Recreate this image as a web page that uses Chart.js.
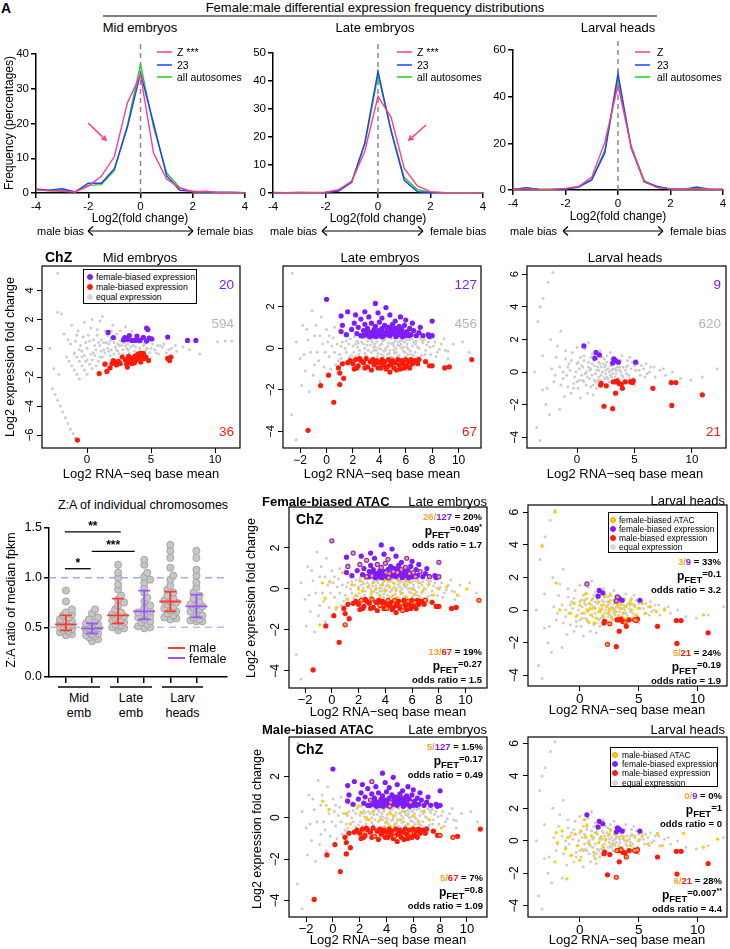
<!DOCTYPE html>
<html>
<head>
<meta charset="utf-8">
<script src="https://cdn.jsdelivr.net/npm/chart.js@4.4.0/dist/chart.umd.min.js"></script>
<style>
  body { margin: 0; background: #fff; }
  #fig { position: relative; width: 730px; height: 949px; overflow: hidden; font-family: "Liberation Sans", Arial, sans-serif; color: #000; }
  #fig canvas { position: absolute; }
  .t { position: absolute; white-space: nowrap; line-height: 1; }
</style>
</head>
<body>
<div id="fig"></div>
<script>
// ---- frequency distributions (row 1) ----
const binCenters = [-4, -3.5, -3, -2.5, -2, -1.5, -1, -0.5, 0, 0.5, 1, 1.5, 2, 2.5, 3, 3.5, 4];
const freqXTicks = [-4, -2, 0, 2, 4];
const midZ    = [1.0, 0.6, 0.5, 0.3, 2.0, 4.8, 10.5, 26, 34, 11.5, 4, 1.5, 0.3, 0.5, 0.1, 0.1, 0];
const mid23   = [1.2, 0.8, 1.2, 0.3, 2.8, 2.8, 7.0, 19, 34.5, 20, 5, 0.8, 0.5, 0.3, 0.2, 0.2, 0.1];
const midAuto = [0.8, 0.7, 0.7, 0.4, 2.2, 2.4, 6.5, 19.5, 37, 19, 5.8, 1.5, 0.4, 0.2, 0.1, 0.1, 0.1];
const lateZ    = [0, 0.1, 0.3, 0.2, 0.3, 1.2, 4.2, 15, 34.5, 27, 8.8, 2.5, 0.5, 0.2, 0.1, 0.1, 0];
const late23   = [0.2, 0.1, 0.1, 0.1, 0.2, 0.7, 3.8, 18, 43.5, 22, 4.5, 0.5, 0.1, 0.1, 0, 0, 0];
const lateAuto = [0.1, 0.1, 0.1, 0.1, 0.2, 0.9, 4.3, 17.5, 42, 22.5, 5.5, 1.2, 0.2, 0.1, 0.1, 0, 0];
const larvZ    = [0.3, 0.5, 0.1, 0.3, 0.7, 1.5, 5.5, 20.5, 45, 18.5, 3.5, 1.0, 0.5, 0.3, 0.7, 0.2, 0.3];
const larv23   = [0.2, 1.0, 0.2, 0.1, 0.3, 1.4, 4.3, 16, 50, 18, 3.5, 1.5, 0.5, 0.2, 1.3, 0.2, 0.2];
const larvAuto = [0.5, 0.8, 0.3, 0.3, 0.5, 1.2, 4.5, 17, 47.5, 19, 4.0, 1.2, 0.5, 0.3, 0.5, 0.2, 0.3];
const midYTicks = [0, 10, 20, 30, 40];
const lateYTicks = [0, 10, 20, 30, 40, 50];
const larvYTicks = [0, 20, 40, 60];

// ---- Z:A strip plot ----
const stripGroups = ['Mid emb', 'Late emb', 'Larv heads'];
const midMale   = [0.87, 0.76, 0.68, 0.65, 0.63, 0.62, 0.60, 0.58, 0.57, 0.56, 0.55, 0.54, 0.53, 0.53, 0.52, 0.51, 0.50, 0.50, 0.49, 0.48, 0.47, 0.46, 0.45, 0.43, 0.42];
const midFemale = [0.68, 0.64, 0.60, 0.58, 0.56, 0.55, 0.54, 0.53, 0.52, 0.51, 0.50, 0.50, 0.49, 0.49, 0.48, 0.47, 0.46, 0.45, 0.44, 0.43, 0.42, 0.41, 0.40, 0.38, 0.36];
const lateMale  = [1.13, 1.05, 1.00, 0.93, 0.88, 0.82, 0.78, 0.75, 0.72, 0.68, 0.65, 0.63, 0.62, 0.61, 0.60, 0.58, 0.57, 0.56, 0.55, 0.53, 0.52, 0.51, 0.50, 0.49, 0.47];
const lateFemale = [1.18, 1.13, 1.05, 1.01, 0.98, 0.95, 0.90, 0.85, 0.80, 0.76, 0.72, 0.69, 0.66, 0.65, 0.63, 0.61, 0.60, 0.58, 0.56, 0.55, 0.53, 0.51, 0.50, 0.49];
const larvMale  = [1.33, 1.27, 1.20, 1.10, 1.02, 0.98, 0.92, 0.88, 0.85, 0.82, 0.79, 0.77, 0.76, 0.75, 0.73, 0.71, 0.69, 0.67, 0.66, 0.64, 0.62, 0.60, 0.59, 0.58];
const larvFemale = [1.27, 1.20, 1.08, 1.02, 0.95, 0.90, 0.85, 0.82, 0.79, 0.76, 0.73, 0.72, 0.71, 0.70, 0.68, 0.66, 0.64, 0.62, 0.60, 0.58, 0.57, 0.56, 0.56];
const stripMedian = [0.53, 0.49, 0.62, 0.66, 0.76, 0.71];
const stripQ1 = [0.47, 0.44, 0.54, 0.58, 0.66, 0.60];
const stripQ3 = [0.62, 0.54, 0.79, 0.87, 0.86, 0.83];
const stripYTicks = [0, 0.5, 1.0, 1.5];

// ---- MA plots: mid embryos ----
const midGray = [[0.2,0.5],[0.5,-0.3],[0.8,0.9],[1.0,0.2],[1.2,-0.6],[1.4,1.2],[1.5,0.4],[1.7,-0.2],[1.9,0.7],[2.0,-0.9],[2.2,0.1],[2.3,1.0],[2.5,-0.4],[2.6,0.5],[2.8,-0.1],[2.9,0.8],[3.0,-0.7],[3.2,0.3],[3.3,-0.3],[3.5,0.6],[3.6,-0.5],[3.8,0.1],[3.9,-0.9],[4.1,0.4],[4.2,-0.2],[4.4,0.2],[4.5,-0.6],[4.7,0.0],[4.9,-0.3],[5.1,0.3],[5.3,-0.1],[5.6,-0.4],[5.9,0.1],[6.2,-0.3],[6.6,0.0],[7.0,-0.2],[7.5,0.1],[8.8,-0.4],[10.2,0.45],[10.8,0.5],[11.3,0.5],
  [0.0,0.0],[0.3,1.4],[0.6,0.2],[0.9,-0.9],[1.1,0.6],[1.3,-0.1],[1.6,0.9],[1.8,-0.5],[2.1,0.4],[2.4,-0.2],[2.7,0.2],[3.1,0.0],[3.4,0.9],[3.7,-0.2],[4.0,-0.4],[4.3,0.6],[4.6,-0.1],[4.8,0.5],[5.0,-0.7],[5.2,0.6],[5.5,0.2],[-0.3,0.8],[-0.5,0.2],[-0.7,1.2],[-0.9,0.5],[-1.0,-0.4],[-1.2,1.6],[-0.4,-0.6],[-0.2,1.8],[0.4,2.0],[1.0,1.9],[-1.5,0.6],[-1.8,1.0],[1.2,2.2],[2.0,1.6],[3.0,1.5],[3.5,1.2],[0.7,-1.2],[1.5,-1.0],[2.6,-0.9],
  [0.4,-0.8],[1.4,-0.3],[2.2,0.7],[2.9,0.4],[3.6,0.2],[4.1,0.0],[1.9,-0.1],[0.9,0.4],[2.4,0.3],[3.3,0.5],[-0.1,0.4],[0.6,-0.5],[1.7,0.3],[2.8,-0.4],[3.9,0.5],[4.5,0.3],[5.4,-0.3],[6.0,0.3],[6.9,0.2],[8.0,-0.1],
  [0.1,0.9],[0.5,0.6],[0.7,-0.1],[1.1,-0.2],[1.3,0.4],[1.6,0.0],[1.8,0.5],[2.1,-0.4],[2.3,-0.1],[2.5,0.2],[2.7,-0.6],[3.0,0.2],[3.2,-0.1],[3.4,0.1],[3.7,0.5],[3.9,-0.3],[4.3,-0.4],[4.6,0.4],[5.0,0.0],[5.7,0.2],[6.4,-0.1],[-0.6,-0.1],[-0.8,0.9],[-1.3,0.3],[0.3,-0.4],[0.8,1.3],[1.9,1.2],[2.6,1.2],[-0.1,-0.9],[1.0,-0.6],
  [-1.6,-0.6],[-1.4,-0.9],[-1.2,-1.2],[-1.0,-1.5],[-0.8,-1.8],[-0.6,-2.1],[-1.0,-0.3],[-0.8,-0.6],[-0.6,-0.9],[-0.4,-1.2],[-0.2,-1.5],[0.0,-1.8],[-0.4,-0.2],[-0.2,-0.5],[0.0,-0.8],[0.2,-1.1],[0.4,-1.4],
  [-2.7,-2.8],[-2.5,-3.2],[-2.3,-3.6],[-2.1,-4.0],[-1.9,-4.4],[-1.7,-4.8],[-1.5,-5.2],[-1.3,-5.6],[-1.1,-5.9],[-0.9,-6.2],[-2.2,-1.8],[-2.6,-1.4],[-2.3,5.2],[-2.3,2.5],[-2.0,2.4],[-2.9,0.0]];
const midPurple = [[1.65,1.1],[2.05,0.75],[2.95,0.75],[3.3,0.88],[3.5,0.55],[3.15,0.62],[3.9,0.85],[3.95,0.58],[4.4,0.76],[4.65,1.4],[4.75,1.3],[4.65,0.5],[4.85,0.7],[5.05,0.65],[3.75,0.55],[4.15,0.55],[6.3,0.78],[7.85,0.55],[8.5,0.55],[2.85,0.58]];
const midRed = [[0.95,-1.75],[1.55,-1.6],[1.4,-1.1],[1.95,-1.05],[2.2,-0.95],[2.3,-1.15],[2.75,-0.6],[3.1,-1.1],[3.15,-1.3],[3.5,-0.7],[3.6,-0.85],[3.7,-1.0],[3.75,-0.55],[3.85,-0.5],[4.0,-0.4],[4.05,-0.7],[4.15,-0.35],[4.25,-0.55],[4.4,-0.35],[4.45,-0.7],[4.8,-0.85],[3.8,-0.85],[3.25,-0.55],[2.6,-1.05],[3.0,-0.8],[4.6,-0.6],[6.3,-0.7],[6.45,-0.85],[6.55,-0.6],[1.8,-1.35],[2.45,-0.9],[3.35,-0.85],[4.2,-0.95],[3.5,-1.05],[-0.75,-6.35],[2.05,-0.85]];

// ---- MA plots: late embryos ----
const lateGray = [[1.2,0.3],[1.5,-0.2],[1.8,0.45],[2.0,0.1],[2.2,-0.4],[2.4,0.25],[2.5,-0.1],[2.7,0.5],[2.9,0.0],[3.0,-0.35],[3.1,0.35],[3.3,0.15],[3.4,-0.2],[3.5,0.45],[3.6,-0.45],[3.7,0.05],[3.8,0.3],[3.9,-0.25],[4.0,0.5],[4.1,-0.05],[4.2,0.2],[4.3,-0.4],[4.4,0.4],[4.5,0.0],[4.6,-0.3],[4.7,0.25],[4.8,-0.1],[4.9,0.45],[5.0,-0.45],[5.1,0.1],[5.2,0.35],[5.3,-0.2],[5.4,0.15],[5.5,-0.35],[5.6,0.5],[5.7,0.0],[5.8,-0.15],[5.9,0.3],[6.0,-0.4],[6.1,0.2],[6.2,-0.05],[6.3,0.4],[6.4,-0.3],[6.5,0.1],[6.7,-0.2],[6.8,0.35],[7.0,0.0],[7.2,-0.35],[7.3,0.25],[7.5,-0.1],[7.7,0.3],[7.9,-0.3],[8.1,0.1],[8.4,-0.2],[8.7,0.2],[9.0,-0.1],
  [2.1,0.55],[2.6,-0.5],[3.2,-0.55],[3.55,0.05],[4.05,0.15],[4.55,0.5],[4.85,-0.4],[5.25,0.0],[5.75,0.4],[6.25,-0.5],[6.6,0.3],[7.1,0.45],[3.75,-0.1],[4.35,-0.15],[5.45,0.3],[5.95,-0.2],[2.8,0.2],[3.25,0.55],[1.6,0.6],[1.0,-0.3],[0.8,0.2],
  [0.5,0.5],[0.2,-0.4],[0.0,0.9],[-0.3,0.2],[-0.6,-0.6],[-0.9,0.6],[-1.2,-0.2],[-1.5,0.9],[-1.8,1.1],[-0.8,1.1],[-1.1,1.8],[-2.6,3.6],[-2.0,-0.5],[-1.6,-1.1],[-1.0,-1.3],[-0.5,-1.6],[-1.3,-2.1],[-0.2,-0.9],[0.3,-1.0],[0.6,1.0],[1.0,0.9],[1.3,-0.7],[0.9,-0.6],[-2.65,-3.2],[-2.3,-4.4],[-1.9,-1.8],[-0.4,1.5],[-2.3,0.3],
  [9.2,-0.15],[9.2,-0.5],[10.3,0.3],[9.6,0.2],[8.9,0.45],[10.8,-0.2],
  [1.4,0.0],[2.3,0.35],[2.9,-0.25],[3.45,0.3],[4.15,-0.3],[4.65,0.1],[5.15,-0.25],[5.65,0.2],[6.15,-0.3],[6.9,0.05],[7.6,0.15],[8.3,-0.4],[1.9,-0.35],[0.4,0.1],[-0.1,-0.2],[3.95,0.0],[5.05,0.25],[6.45,0.45],
  [1.1,0.1],[1.7,0.2],[2.05,-0.2],[2.35,0.05],[2.65,0.3],[2.95,0.5],[3.15,-0.1],[3.35,0.4],[3.65,0.2],[3.85,-0.4],[4.25,0.35],[4.45,-0.1],[4.75,-0.25],[4.95,0.2],[5.35,-0.4],[5.55,0.1],[5.85,0.05],[6.05,0.4],[6.35,-0.15],[6.55,-0.35],[6.75,0.2],[7.05,-0.45],[7.25,0.35],[7.45,-0.3],[7.85,0.05],[8.2,0.3],[8.55,-0.05],[0.1,0.3],[-0.5,0.6],[-0.7,-0.2],[0.6,-0.2],[1.1,-0.5],[1.7,-0.45],[2.45,-0.3],[3.05,0.15],[3.6,-0.1],[4.15,0.45],[4.6,-0.5],[5.1,-0.1],[5.6,0.35],[6.1,0.05],[6.85,-0.45],[7.4,0.4],[-1.4,0.4],[-0.9,-0.8],[0.2,0.6],[0.7,-0.8],[1.5,0.35],[2.2,0.2],[-1.7,-0.3]];
const latePurple = [[0.0,2.35],[1.1,1.55],[1.6,1.75],[3.7,2.15],[4.5,1.95],[8.0,1.3],[2.2,1.6],[2.6,1.4],[2.9,1.75],[3.2,1.5],[3.9,1.7],[4.2,1.45],[4.8,1.6],[5.2,1.3],[5.6,1.5],[6.0,1.35],[6.5,1.2],[7.1,1.0],
  [1.1,0.8],[1.2,1.1],[1.5,0.65],[1.9,0.9],[2.1,1.2],[2.3,0.7],[2.4,1.0],[2.6,0.6],[2.8,0.85],[2.9,1.15],[3.0,0.65],[3.1,0.95],[3.3,0.75],[3.4,1.2],[3.5,0.6],[3.6,0.9],[3.7,1.05],[3.8,0.7],[3.9,0.85],[4.0,1.25],[4.1,0.6],[4.2,0.95],[4.3,0.75],[4.4,1.1],[4.5,0.65],[4.6,0.85],[4.7,1.0],[4.8,0.6],[4.9,0.8],[5.0,1.15],[5.1,0.7],[5.2,0.95],[5.3,0.6],[5.4,0.85],[5.5,1.05],[5.6,0.65],[5.7,0.9],[5.8,0.75],[5.9,1.1],[6.0,0.6],[6.1,0.8],[6.3,0.95],[6.4,0.65],[6.6,0.85],[6.8,0.6],[7.0,0.75],[7.3,0.6],[7.7,0.65],[7.8,0.55],[8.0,0.6],
  [3.25,0.55],[3.75,0.55],[4.25,0.55],[4.75,0.7],[5.25,0.55],[5.75,0.55],[4.05,0.8],[4.55,1.0],[5.05,0.9],[3.55,0.8],[2.75,0.6],[6.25,0.6],[4.35,0.65],[4.85,0.95],[5.45,0.7],[3.15,0.8]];
const lateRed = [[-0.45,-1.8],[0.15,-1.3],[0.55,-2.6],[-1.4,-3.95],[0.9,-0.95],[1.0,-1.2],[1.0,-1.75],[1.3,-1.45],[2.1,-1.0],[8.95,-0.95],[9.3,-0.9],[11.0,-0.55],[4.8,-1.15],
  [1.8,-0.6],[2.0,-0.75],[2.2,-0.55],[2.4,-0.85],[2.6,-0.6],[2.8,-0.7],[3.0,-0.5],[3.1,-0.9],[3.3,-0.65],[3.5,-0.55],[3.6,-0.8],[3.8,-0.6],[3.9,-0.95],[4.0,-0.7],[4.2,-0.55],[4.3,-0.8],[4.4,-0.65],[4.6,-0.9],[4.7,-0.55],[4.9,-0.75],[5.0,-0.6],[5.1,-0.95],[5.2,-0.7],[5.4,-0.55],[5.5,-0.8],[5.6,-1.0],[5.7,-0.6],[5.8,-0.75],[6.0,-0.55],[6.1,-0.85],[6.2,-0.65],[6.4,-0.55],[6.5,-0.75],[6.7,-0.6],[7.0,-0.55],[7.5,-0.65],[7.8,-0.85],[8.0,-0.85],
  [5.3,-1.05],[4.5,-1.0],[3.4,-1.05],[2.9,-0.95],[6.9,-0.75],[4.1,-0.95],[5.9,-0.95],[3.7,-0.7],[4.8,-0.8],[2.3,-0.95],[1.2,-0.75],[1.6,-0.7],[2.5,-0.5],[6.3,-0.95]];

// ---- MA plots: larval heads ----
const larvGray = [[-1.5,0.3],[-1.2,-0.4],[-1.0,0.8],[-0.8,-0.9],[-0.6,0.1],[-0.4,1.2],[-0.2,-0.3],[0.0,0.5],[0.1,-1.0],[0.3,0.9],[0.4,-0.2],[0.5,0.3],[0.6,-0.6],[0.7,1.4],[0.8,0.0],[0.9,-1.3],[1.0,0.6],[1.1,-0.4],[1.2,0.2],[1.3,1.1],[1.4,-0.8],[1.5,0.4],[1.6,-0.1],[1.7,0.8],[1.8,-0.5],[1.9,0.1],[2.0,0.5],[2.1,-0.2],[2.2,0.9],[2.3,-0.7],[2.4,0.3],[2.5,-0.1],[2.6,0.6],[2.7,-0.4],[2.8,0.0],[2.9,0.4],[3.0,-0.3],[3.1,0.2],[3.2,-0.6],[3.3,0.5],[3.4,-0.1],[3.5,0.3],[3.6,-0.4],[3.7,0.1],[3.8,0.7],[3.9,-0.2],[4.0,0.3],[4.1,-0.5],[4.2,0.1],[4.4,0.4],[4.5,-0.2],[4.7,0.2],[4.9,-0.4],[5.1,0.1],[5.3,0.5],[5.5,-0.2],[5.8,0.2],[6.1,-0.1],[6.4,0.3],[6.8,-0.3],[7.2,0.1],[7.7,-0.2],[8.3,0.0],[9.0,-0.4],[9.9,-0.5],[10.9,-0.3],[12.2,0.2],
  [0.2,0.2],[0.6,0.7],[0.9,-0.3],[1.2,-0.9],[1.5,1.0],[1.8,0.3],[2.1,-0.8],[2.4,0.8],[2.7,0.2],[3.0,0.8],[3.3,-0.3],[3.6,0.5],[1.1,0.1],[1.6,-0.6],[2.2,0.0],[2.6,-0.3],[3.4,0.1],[0.5,-0.5],[-0.3,-0.7],[-0.7,0.5],[0.0,1.5],[1.0,1.8],[-1.1,-1.5],[-1.8,0.9],[-2.0,-0.6],[-1.7,1.6],[0.3,-1.6],[1.4,-1.4],[-0.5,-1.3],[4.3,-0.1],[4.8,0.6],[5.0,-0.8],[5.6,0.4],[6.0,0.5],[2.9,1.2],[3.9,1.0],[4.6,0.9],
  [0.7,-0.1],[1.3,0.5],[1.9,-0.3],[2.5,0.4],[3.1,-0.1],[3.7,0.3],[0.1,0.6],[-0.9,-0.2],[2.0,1.3],[1.7,-1.0],
  [0.4,0.4],[0.8,-0.8],[1.0,0.3],[1.3,-0.2],[1.5,0.7],[1.7,0.1],[2.0,-0.5],[2.3,0.5],[2.5,0.1],[2.8,-0.6],[3.0,0.1],[3.2,0.6],[3.5,-0.5],[3.8,0.0],[4.0,-0.3],[4.3,0.3],[4.6,-0.4],[5.0,0.4],[5.4,0.1],[5.9,-0.3],[6.3,0.0],[6.7,0.3],[7.5,0.2],[-0.1,0.0],[-0.5,0.7],[-0.8,0.3],[-1.2,0.0],[-1.4,-0.8],[-1.9,-0.2],[-0.3,-1.0],[0.2,-0.5],[0.6,1.0],[1.2,0.9],[1.9,0.6],[2.6,1.0],[2.1,0.3],[2.9,-0.2],[3.3,0.2],[3.7,-0.8],[4.4,0.7],[-2.2,0.2],[-1.0,1.3],[0.0,-0.6],[1.5,-0.5],[2.4,-0.4],[3.4,0.8],
  [-2.1,6.1],[-2.5,5.5],[-2.95,4.5],[-3.2,4.0],[-3.4,3.1],[-3.7,0.0],[-3.0,-1.1],[-2.7,-2.0],[-3.2,-4.2],[-3.5,-3.4],[-2.4,-2.6],[-1.5,-2.3],[-2.6,-1.0],[-3.0,1.0],[-2.3,2.0],[-1.4,2.5]];
const larvPurple = [[0.6,1.6],[1.65,1.2],[1.95,1.05],[1.55,0.85],[3.2,0.8],[3.35,0.7],[3.1,0.55],[3.6,0.6],[5.1,0.6]];
const larvRed = [[2.1,-0.7],[2.05,-0.8],[2.55,-0.85],[3.15,-0.6],[3.5,-0.55],[3.85,-0.75],[3.95,-1.0],[4.2,-0.6],[4.65,-0.6],[4.9,-0.55],[4.8,-0.65],[3.35,-1.3],[2.35,-2.1],[3.1,-2.25],[6.6,-1.0],[8.2,-0.65],[8.6,-0.65],[8.25,-2.05],[10.9,-1.4],[3.3,-0.6],[3.65,-0.7]];

// ---- ATAC overlaps ----
const lateFemAtac = [[0.8,0.8],[-0.15,0.35],[-0.7,0.3],[-0.5,-0.45],[0.35,-0.9],[-0.9,-1.75],[10.1,0.0],[1.5,0.2],[1.8,-0.3],[2.1,0.4],[2.3,-0.1],[2.5,0.5],[2.7,0.1],[2.9,-0.4],[3.1,0.3],[3.3,0.0],[3.5,0.5],[3.6,-0.3],[3.8,0.2],[4.0,-0.1],[4.1,0.45],[4.3,0.1],[4.5,-0.35],[4.6,0.3],[4.8,0.0],[5.0,0.4],[5.2,-0.2],[5.4,0.2],[5.6,-0.4],[5.8,0.35],[6.0,0.0],[6.2,-0.25],[6.5,0.3],[6.8,-0.1],[7.2,0.2],[7.6,-0.3],[8.0,0.0],[8.6,0.1],[9.4,-0.3],[1.2,-0.5],[2.0,0.0],[3.0,-0.15],[3.9,0.4],[4.9,-0.45],[5.9,-0.5],[4.4,0.5],[5.5,0.45],[2.6,-0.6],[6.6,-0.5]];
const lateFemAtacPurpleIdx = [0, 2, 5, 7, 11, 14, 19, 22, 25, 28, 31, 34, 37, 40, 43, 46, 49, 52, 55, 58, 61, 64, 67, 70, 74, 79];
const lateFemAtacRedIdx = [6, 11, 15, 19, 23, 27, 31, 35, 39, 43, 47, 51, 56];
const lateMaleAtac = [[-0.75,0.8],[-0.3,0.4],[1.9,0.55],[2.1,0.25],[2.3,-0.7],[3.0,0.3],[3.3,0.6],[3.5,-0.1],[3.8,0.4],[4.0,-0.2],[4.1,-0.7],[4.3,0.2],[4.6,-0.4],[4.8,0.5],[5.0,-0.1],[5.3,0.3],[5.6,-0.3],[6.0,0.1],[6.4,-0.2],[6.8,0.3],[7.2,-0.1],[8.1,-0.5],[1.3,-0.3],[2.7,-0.1],[3.9,-0.5],[4.5,0.1],[5.9,-0.5],[1.0,0.2],[2.5,0.0],[4.2,-0.45]];
const lateMaleAtacPurpleIdx = [8, 26, 40, 55, 70];
const lateMaleAtacRedIdx = [9, 20, 30, 40, 50];
const larvFemAtac = [[-2.1,6.0],[-3.2,3.9],[-2.0,1.65],[-1.7,0.0],[10.5,-0.3],[0.0,0.3],[0.2,-0.2],[0.4,0.6],[0.6,0.0],[0.8,0.4],[1.0,-0.3],[1.1,0.7],[1.3,0.1],[1.4,-0.5],[1.6,0.5],[1.7,-0.1],[1.9,0.3],[2.0,-0.4],[2.1,0.8],[2.3,0.2],[2.4,-0.2],[2.5,0.5],[2.7,-0.5],[2.8,0.1],[2.9,0.6],[3.0,-0.1],[3.2,0.3],[3.3,-0.4],[3.5,0.1],[3.6,0.5],[3.7,-0.2],[3.9,0.2],[4.0,-0.5],[4.2,0.4],[4.4,0.0],[4.6,0.3],[4.8,-0.3],[5.0,0.1],[5.3,0.4],[5.6,-0.2],[6.0,0.2],[6.5,-0.1],[7.2,0.0],[-0.5,0.4],[-0.3,-0.4],[0.7,-0.7],[1.5,0.9],[2.2,-0.7],[3.1,0.7],[3.8,-0.6],[4.3,0.6],[0.5,1.0],[1.2,-0.8],[2.6,0.9],[1.8,0.0],[2.5,0.0],[3.4,0.4],[0.9,0.1],[-0.8,-0.2]];
const larvFemAtacPurpleIdx = [0, 4, 6];
const larvFemAtacRedIdx = [2, 5, 8, 10, 12];
const larvMaleAtac = [[-2.0,0.5],[-2.1,-1.3],[-1.1,-2.35],[-1.9,-0.1],[-1.5,0.6],[-1.2,-0.5],[-1.0,0.2],[-0.7,-0.9],[-0.4,0.4],[-0.2,-0.3],[0.1,0.6],[0.3,-0.6],[0.5,0.2],[0.6,0.9],[0.8,-0.2],[1.0,0.3],[1.2,-0.7],[1.4,0.5],[1.6,-0.1],[1.8,0.2],[2.0,-0.4],[2.2,0.1],[2.5,0.4],[2.8,-0.2],[3.1,0.3],[3.4,-0.4],[3.7,0.2],[4.0,0.0],[4.3,-0.3],[4.6,0.3],[5.0,0.0],[5.3,0.3],[5.8,-0.2],[6.6,0.45],[7.0,-0.3],[8.8,0.45],[10.5,-0.4],[11.7,0.1],[0.0,-1.2],[1.3,-1.1],[2.6,0.7],[0.4,1.3]];
const larvMaleAtacPurpleIdx = [];
const larvMaleAtacRedIdx = [3, 4, 6, 8, 9, 13];

const maXTicksWide = [0, 5, 10];
const maXTicksLate = [-2, 0, 2, 4, 6, 8, 10];
const midYTicksMA = [-6, -4, -2, 0, 2, 4];
const lateYTicksMA = [-4, -2, 0, 2];
const larvYTicksMA = [-4, -2, 0, 2, 4, 6];

const PURPLE = '#7f1cff', RED = '#ff1a0a', GRAY = '#cdcdcd', YEL = '#ffcf00', ORANGE = '#ffa330', PINK = '#ff3d8c', BLUE = '#1f3fff', GREEN = '#22cc22';

Chart.defaults.font.family = '"Liberation Sans", Arial, sans-serif';
Chart.defaults.color = '#000';

const fig = document.getElementById('fig');

function place(box, m) {
  const cv = document.createElement('canvas');
  cv.width = box[2] - box[0] + m.l + m.r;
  cv.height = box[3] - box[1] + m.t + m.b;
  cv.style.left = (box[0] - m.l) + 'px';
  cv.style.top = (box[1] - m.t) + 'px';
  fig.appendChild(cv);
  return cv;
}
const fixedTicks = vals => s => { s.ticks = vals.map(v => ({ value: v })); };
const minus = v => (v < 0 ? '\u2212' + Math.abs(v) : '' + v);
const baseOpts = m => ({
  responsive: false, animation: false, events: [], devicePixelRatio: 1,
  layout: { padding: { top: m.t, right: m.r, left: 0, bottom: 0 } },
  plugins: { legend: { display: false }, tooltip: { enabled: false } }
});

// dashed zero line + pink arrows for row 1
const zeroDash = {
  id: 'zeroDash',
  beforeDatasetsDraw(c) {
    const { ctx, chartArea, scales: { x, y } } = c;
    const px = x.getPixelForValue(0);
    ctx.save();
    ctx.strokeStyle = '#8a8a8a'; ctx.lineWidth = 1.5; ctx.setLineDash([5, 4]);
    ctx.beginPath(); ctx.moveTo(px, y.getPixelForValue(0)); ctx.lineTo(px, chartArea.top - 11); ctx.stroke();
    ctx.restore();
  },
  afterDatasetsDraw(c, args, opts) {
    if (!opts.arrow) return;
    const { ctx, scales: { x, y } } = c;
    const [x1, y1, x2, y2] = opts.arrow;
    const p1 = [x.getPixelForValue(x1), y.getPixelForValue(y1)], p2 = [x.getPixelForValue(x2), y.getPixelForValue(y2)];
    const a = Math.atan2(p2[1] - p1[1], p2[0] - p1[0]);
    ctx.save();
    ctx.strokeStyle = PINK; ctx.lineWidth = 1.5;
    ctx.beginPath(); ctx.moveTo(p1[0], p1[1]); ctx.lineTo(p2[0], p2[1]);
    ctx.moveTo(p2[0] - 5 * Math.cos(a - 0.5), p2[1] - 5 * Math.sin(a - 0.5)); ctx.lineTo(p2[0], p2[1]);
    ctx.lineTo(p2[0] - 5 * Math.cos(a + 0.5), p2[1] - 5 * Math.sin(a + 0.5));
    ctx.stroke(); ctx.restore();
  }
};

function freqChart(box, lines, yTicks, arrow) {
  const m = { l: 30, r: 10, t: 14, b: 24 };
  const cv = place(box, m);
  new Chart(cv, {
    type: 'line',
    data: { datasets: lines.map((s, i) => ({
      data: binCenters.map((x, j) => ({ x, y: s[0][j] })),
      borderColor: s[1], borderWidth: 1.4, pointRadius: 0, tension: 0, order: i
    })) },
    options: {
      ...baseOpts(m),
      plugins: { legend: { display: false }, tooltip: { enabled: false }, zeroDash: { arrow } },
      scales: {
        x: { type: 'linear', min: -4, max: 4, afterFit: s => { s.height = m.b; }, afterBuildTicks: fixedTicks(freqXTicks),
          grid: { drawOnChartArea: false, tickLength: 5, color: '#000', lineWidth: 1.5 },
          border: { color: '#000', width: 1.5 },
          ticks: { font: { size: 11.5 }, padding: 2, maxRotation: 0, autoSkip: false } },
        y: { min: 0, max: yTicks[yTicks.length - 1], afterFit: s => { s.width = m.l; }, afterBuildTicks: fixedTicks(yTicks),
          grid: { drawOnChartArea: false, tickLength: 5, color: '#000', lineWidth: 1.5 },
          border: { color: '#000', width: 1.5 },
          ticks: { font: { size: 11.5 }, padding: 2, autoSkip: false } }
      }
    },
    plugins: [zeroDash]
  });
}

// R-style box around plot area
const boxPlug = {
  id: 'boxPlug',
  afterDraw(c) {
    const { ctx, chartArea: a } = c;
    ctx.save(); ctx.strokeStyle = '#000'; ctx.lineWidth = 1.2;
    ctx.strokeRect(a.left, a.top, a.right - a.left, a.bottom - a.top);
    ctx.restore();
  }
};

function maPlot(box, xr, yr, xt, yt, layers, fx, fy) {
  const m = { l: 26, r: 4, t: 10, b: 24 };
  const cv = place(box, m);
  new Chart(cv, {
    type: 'scatter',
    data: { datasets: layers.map((L, i) => ({
      data: L.pts.map(p => ({ x: p[0], y: p[1] })),
      pointRadius: L.r, pointBackgroundColor: L.c, pointBorderColor: L.bc || L.c, pointBorderWidth: L.bw || 0,
      order: layers.length - i
    })) },
    options: {
      ...baseOpts(m),
      scales: {
        x: { type: 'linear', min: xr[0], max: xr[1], afterFit: s => { s.height = m.b; }, afterBuildTicks: fixedTicks(xt),
          grid: { drawOnChartArea: false, tickLength: 5, color: '#000', lineWidth: 1 }, border: { display: false },
          ticks: { font: { size: fx }, padding: 0, maxRotation: 0, autoSkip: false, callback: minus } },
        y: { min: yr[0], max: yr[1], afterFit: s => { s.width = m.l; }, afterBuildTicks: fixedTicks(yt),
          grid: { drawOnChartArea: false, tickLength: 5, color: '#000', lineWidth: 1 }, border: { display: false },
          ticks: { font: { size: fy }, padding: 1, minRotation: 90, maxRotation: 90, crossAlign: 'center', autoSkip: false, callback: minus } }
      }
    },
    plugins: [boxPlug]
  });
}

const pick = (arr, idx) => idx.map(i => arr[i]);
const gray = pts => ({ pts, r: 1.5, c: GRAY });
const purple = pts => ({ pts, r: 2.6, c: PURPLE });
const red = pts => ({ pts, r: 2.6, c: RED });
const yellow = pts => ({ pts, r: 1.7, c: YEL });
const over = pts => ({ pts, r: 1.5, c: ORANGE });

// ---- strip plot ----
// simple beeswarm: nudge points sideways, allowing overlap, so each column stays narrow
function swarm(vals) {
  const d = 4.6, step = 3, pxX = 26.2, pxY = 98;
  const placed = [];
  return vals.slice().sort((a, b) => a - b).map(v => {
    const yv = v * pxY;
    let best = 0, bestGap = -1;
    for (let k = 0; k < 5; k++) {
      const dx = (k % 2 ? 1 : -1) * Math.ceil(k / 2) * step;
      const gap = placed.reduce((g, p) => Math.min(g, Math.hypot(p.x - dx, p.y - yv)), 99);
      if (gap >= d) { best = dx; break; }
      if (gap > bestGap) { bestGap = gap; best = dx; }
    }
    placed.push({ x: best, y: yv });
    return { v, dx: best / pxX };
  });
}

const stripPlug = {
  id: 'stripPlug',
  beforeDatasetsDraw(c) {
    const { ctx, chartArea: a, scales: { y } } = c;
    ctx.save(); ctx.lineWidth = 1.5; ctx.setLineDash([7, 5]);
    [[1.0, '#a7a7e6'], [0.5, '#a9c4f2']].forEach(([v, col]) => {
      ctx.strokeStyle = col; ctx.beginPath();
      ctx.moveTo(a.left, y.getPixelForValue(v)); ctx.lineTo(a.right, y.getPixelForValue(v)); ctx.stroke();
    });
    ctx.restore();
  },
  afterDatasetsDraw(c) {
    const { ctx, scales: { x, y } } = c;
    ctx.save(); ctx.lineWidth = 1.8;
    stripMedian.forEach((med, i) => {
      const px = x.getPixelForValue(i + 1);
      ctx.strokeStyle = i % 2 ? '#9a55ff' : '#ff3a2a';
      const q1 = y.getPixelForValue(stripQ1[i]), q3 = y.getPixelForValue(stripQ3[i]), pm = y.getPixelForValue(med);
      ctx.beginPath();
      ctx.moveTo(px, q1); ctx.lineTo(px, q3);
      ctx.moveTo(px - 6, q1); ctx.lineTo(px + 6, q1);
      ctx.moveTo(px - 6, q3); ctx.lineTo(px + 6, q3);
      ctx.moveTo(px - 11, pm); ctx.lineTo(px + 11, pm);
      ctx.stroke();
    });
    // significance brackets
    ctx.strokeStyle = '#000'; ctx.lineWidth = 1.3; ctx.fillStyle = '#000';
    ctx.font = 'bold 12px "Liberation Sans", Arial'; ctx.textAlign = 'center';
    [[0.96, 3.1, 1.46, '**'], [1.99, 3.63, 1.265, '***'], [0.96, 1.95, 1.09, '*']].forEach(([a, b, v, s]) => {
      const py = y.getPixelForValue(v), xa = x.getPixelForValue(a), xb = x.getPixelForValue(b);
      ctx.beginPath(); ctx.moveTo(xa, py); ctx.lineTo(xb, py); ctx.stroke();
      ctx.fillText(s, (xa + xb) / 2, py - 2);
    });
    ctx.restore();
  }
};

function stripChart() {
  const box = [49, 528, 228, 677];
  const m = { l: 40, r: 4, t: 12, b: 10 };
  const cv = place(box, m);
  const cols = [midMale, midFemale, lateMale, lateFemale, larvMale, larvFemale];
  const pts = [];
  cols.forEach((vals, i) => swarm(vals).forEach(p => pts.push({ x: i + 1 + p.dx, y: p.v })));
  new Chart(cv, {
    type: 'scatter',
    data: { datasets: [{ data: pts, pointRadius: 3.6, pointBackgroundColor: '#c6c6c6', pointBorderColor: '#9c9c9c', pointBorderWidth: 0.8 }] },
    options: {
      ...baseOpts(m),
      scales: {
        x: { type: 'linear', min: 0.35, max: 7.18, afterFit: s => { s.height = m.b; }, afterBuildTicks: fixedTicks([1, 2, 3, 4, 5, 6]),
          grid: { drawOnChartArea: false, tickLength: 6, color: '#000', lineWidth: 1.5 }, border: { color: '#000', width: 1.5 },
          ticks: { callback: () => '', autoSkip: false } },
        y: { min: 0, max: 1.5, afterFit: s => { s.width = m.l; }, afterBuildTicks: fixedTicks(stripYTicks),
          grid: { drawOnChartArea: false, tickLength: 5, color: '#000', lineWidth: 1.5 }, border: { color: '#000', width: 1.5 },
          ticks: { font: { size: 12.5 }, padding: 2, autoSkip: false, callback: v => v.toFixed(1) } }
      }
    },
    plugins: [stripPlug]
  });
}

// ---- build charts ----
freqChart([36, 54, 245, 193], [[midZ, PINK], [mid23, BLUE], [midAuto, GREEN]], midYTicks, [-2.0, 20.1, -1.32, 15.2]);
freqChart([273, 53, 483, 193], [[lateZ, PINK], [late23, BLUE], [lateAuto, GREEN]], lateYTicks, [1.83, 24.3, 1.18, 18.9]);
freqChart([513, 50, 723, 190], [[larvZ, PINK], [larv23, BLUE], [larvAuto, GREEN]], larvYTicks, null);

maPlot([42, 266, 240, 448], [-3.52, 11.95], [-6.9, 5.7], maXTicksWide, midYTicksMA,
  [gray(midGray), purple(midPurple), red(midRed)], 11.5, 11);
maPlot([283, 266, 481, 448], [-3.3, 11.7], [-4.8, 3.95], maXTicksLate, lateYTicksMA,
  [gray(lateGray), purple(latePurple), red(lateRed)], 12, 11);
maPlot([527, 266, 726, 448], [-4.35, 12.96], [-4.66, 6.5], maXTicksWide, larvYTicksMA,
  [gray(larvGray), purple(larvPurple), red(larvRed)], 11.5, 11);

stripChart();

maPlot([289, 507, 487, 688], [-3.2, 11.6], [-4.83, 4.0], maXTicksLate, lateYTicksMA,
  [gray(lateGray), yellow(lateFemAtac), purple(latePurple), red(lateRed), over(pick(latePurple, lateFemAtacPurpleIdx)), over(pick(lateRed, lateFemAtacRedIdx))], 13, 12);
maPlot([528, 505, 727, 686], [-4.4, 12.5], [-4.66, 6.44], maXTicksWide, larvYTicksMA,
  [gray(larvGray), yellow(larvFemAtac), purple(larvPurple), red(larvRed), over(pick(larvPurple, larvFemAtacPurpleIdx)), over(pick(larvRed, larvFemAtacRedIdx))], 13.5, 12);
maPlot([289, 737, 487, 917], [-3.28, 11.5], [-4.8, 3.9], maXTicksLate, lateYTicksMA,
  [gray(lateGray), yellow(lateMaleAtac), purple(latePurple), red(lateRed), over(pick(latePurple, lateMaleAtacPurpleIdx)), over(pick(lateRed, lateMaleAtacRedIdx))], 13, 12);
maPlot([528, 737, 727, 917], [-4.4, 12.5], [-4.7, 6.4], maXTicksWide, larvYTicksMA,
  [gray(larvGray), yellow(larvMaleAtac), purple(larvPurple), red(larvRed), over(pick(larvPurple, larvMaleAtacPurpleIdx)), over(pick(larvRed, larvMaleAtacRedIdx))], 13.5, 12);

// ---- text, legends, decorations ----
function txt(html, x, y, o = {}) {
  const d = document.createElement('div');
  d.className = 't';
  d.innerHTML = html;
  const a = o.a || 'c';
  const tx = a === 'l' ? '0' : a === 'r' ? '-100%' : '-50%';
  d.style.left = x + 'px'; d.style.top = y + 'px';
  d.style.fontSize = (o.s || 12) + 'px';
  if (o.b) d.style.fontWeight = 'bold';
  if (o.c) d.style.color = o.c;
  d.style.transform = `translate(${tx},-50%)` + (o.rot ? ' rotate(-90deg)' : '');
  fig.appendChild(d);
  return d;
}
const svgNS = 'http://www.w3.org/2000/svg';
const svg = document.createElementNS(svgNS, 'svg');
svg.setAttribute('width', 730); svg.setAttribute('height', 949);
svg.style.cssText = 'position:absolute;left:0;top:0;pointer-events:none';
function seg(x1, y1, x2, y2, col, w) {
  const l = document.createElementNS(svgNS, 'path');
  l.setAttribute('d', `M${x1},${y1}L${x2},${y2}`);
  l.setAttribute('stroke', col); l.setAttribute('stroke-width', w); l.setAttribute('fill', 'none');
  svg.appendChild(l);
}
function dblArrow(x1, x2, y) {
  seg(x1, y, x2, y, '#000', 1.2);
  seg(x1 + 5, y - 4.5, x1, y, '#000', 1.2); seg(x1, y, x1 + 5, y + 4.5, '#000', 1.2);
  seg(x2 - 5, y - 4.5, x2, y, '#000', 1.2); seg(x2, y, x2 - 5, y + 4.5, '#000', 1.2);
}
function dot(x, y, c, bc, r) {
  const d = document.createElement('div');
  d.style.cssText = `position:absolute;left:${x - r}px;top:${y - r}px;width:${2 * r}px;height:${2 * r}px;border-radius:50%;background:${c};box-sizing:border-box;border:1px solid ${bc}`;
  fig.appendChild(d);
}
function legendBox(x1, y1, x2, y2, items, dotX, textX, fs) {
  const b = document.createElement('div');
  b.style.cssText = `position:absolute;left:${x1}px;top:${y1}px;width:${x2 - x1}px;height:${y2 - y1}px;border:1.3px solid #000;box-sizing:border-box;background:#fff`;
  fig.appendChild(b);
  items.forEach(([c, bc, label, y]) => { dot(dotX, y, c, bc, 3); txt(label, textX, y, { s: fs, a: 'l' }); });
}
const col = (s, c) => `<span style="color:${c}">${s}</span>`;
function stats(x, y, ratio, p, stars, odds) {
  txt(ratio, x, y, { a: 'r', b: true, s: 9.5 });
  txt(`<span style="font-size:12px">p</span><span style="font-size:9.5px;position:relative;top:3px">FET</span><span style="font-size:9.5px;position:relative;top:-3px">=${p}${stars ? `<span style="font-size:7px;position:relative;top:-3px">${stars}</span>` : ''}</span>`, x, y + 14, { a: 'r', b: true });
  txt(`odds ratio = ${odds}`, x, y + 28, { a: 'r', b: true, s: 9.5 });
}

// row 1
txt('<b>A</b>', 1, 8, { s: 14, a: 'l' });
txt('Female:male differential expression frequency distributions', 375, 7, { s: 13 });
seg(103, 16, 657, 16, '#555', 1.5);
txt('Mid embryos', 140, 27, { s: 13 });
txt('Late embryos', 375, 27, { s: 13 });
txt('Larval heads', 618, 27, { s: 13 });
txt('Frequency (percentages)', 9, 123, { s: 12, rot: true });
[[140, 218], [378, 218], [618, 216]].forEach(([x, y]) => txt('Log2(fold change)', x, y, { s: 12 }));
[[157, 177, 'Z ***'], [397, 417, 'Z ***'], [635, 657, 'Z']].forEach(([lx, tx, z]) => {
  [[PINK, z, 52], [BLUE, '23', 65], [GREEN, 'all autosomes', 77]].forEach(([c, label, y]) => {
    seg(lx, y, lx + 15, y, c, 1.5);
    txt(label, tx, y, { s: 10.5, a: 'l' });
  });
});
[[37, 88, 193, 197], [270, 322, 423, 430], [510, 563, 663, 670]].forEach(([mx, a1, a2, fx]) => {
  txt('male bias', mx, 231, { s: 11, a: 'l' });
  dblArrow(a1, a2, 231);
  txt('female bias', fx, 231, { s: 11, a: 'l' });
});

// row 2
txt('ChZ', 45, 257, { s: 14, b: true, a: 'l' });
txt('Mid embryos', 140, 257, { s: 13 });
txt('Late embryos', 380, 257, { s: 13 });
txt('Larval heads', 625, 257, { s: 13 });
[[234, '20', '594', '36'], [477, '127', '456', '67'], [721, '9', '620', '21']].forEach(([x, f, e, m]) => {
  txt(f, x, 285, { s: 13.5, a: 'r', c: PURPLE });
  txt(e, x, 324, { s: 13.5, a: 'r', c: '#b5b5b5' });
  txt(m, x, 432, { s: 13.5, a: 'r', c: RED });
});
txt('Log2 expression fold change', 10, 357, { s: 12.5, rot: true });
[[141, 473], [382, 473], [625, 473]].forEach(([x, y]) => txt('Log2 RNA\u2212seq base mean', x, y, { s: 13 }));
legendBox(83, 269, 197, 304, [[PURPLE, PURPLE, 'female-biased expression', 277], [RED, RED, 'male-biased expression', 287], ['#d8d8d8', '#d8d8d8', 'equal expression', 297]], 90, 96, 8.7);

// row 3 left
txt('Z:A of individual chromosomes', 143, 505, { s: 12.5 });
txt('Z:A ratio of median fpkm', 11, 600, { s: 12.5, rot: true });
[[58, 100], [110, 152], [162, 203]].forEach(([a, b], i) => {
  seg(a, 687, b, 687, '#444', 2);
  const [l1, l2] = stripGroups[i].split(' ');
  txt(l1, (a + b) / 2, 698, { s: 12.5 });
  txt(l2, (a + b) / 2, 713, { s: 12.5 });
});
seg(168, 648, 185, 648, '#ff3a2a', 2); txt('male', 189, 648, { s: 12.5, a: 'l' });
seg(168, 658, 185, 658, '#9a55ff', 2); txt('female', 189, 659, { s: 12.5, a: 'l' });

// row 3 ATAC female
txt('Female-biased ATAC', 262, 501, { s: 13, b: true, a: 'l' });
txt('Late embryos', 487, 501, { s: 13, a: 'r' });
txt('ChZ', 296, 519, { s: 14, b: true, a: 'l' });
stats(482, 517, col('26/', ORANGE) + col('127', PURPLE) + ' = 20%', '0.049', '*', '1.7');
stats(482, 652, col('13/', ORANGE) + col('67', RED) + ' = 19%', '0.27', '', '1.5');
txt('Log2 expression fold change', 251, 598, { s: 12.5, rot: true });
txt('Log2 RNA\u2212seq base mean', 388, 711, { s: 13 });
txt('Larval heads', 725, 500, { s: 13, a: 'r' });
legendBox(608, 512, 718, 553, [[YEL, '#f0a000', 'female-biased ATAC', 520], [PURPLE, PURPLE, 'female-biased expression', 529], [RED, RED, 'male-biased expression', 538], ['#d8d8d8', '#d8d8d8', 'equal expression', 547]], 613, 619, 8.4);
stats(721, 562, col('3/', ORANGE) + col('9', PURPLE) + ' = 33%', '0.1', '', '3.2');
stats(721, 653, col('5/', ORANGE) + col('21', RED) + ' = 24%', '0.19', '', '1.9');
txt('Log2 RNA\u2212seq base mean', 627, 709, { s: 13 });

// row 4 ATAC male
txt('Male-biased ATAC', 262, 729, { s: 13, b: true, a: 'l' });
txt('Late embryos', 487, 729, { s: 13, a: 'r' });
txt('ChZ', 296, 749, { s: 14, b: true, a: 'l' });
stats(483, 747, col('5/', ORANGE) + col('127', PURPLE) + ' = 1.5%', '0.17', '', '0.49');
stats(483, 878, col('5/', ORANGE) + col('67', RED) + ' = 7%', '0.8', '', '1.09');
txt('Log2 expression fold change', 257, 829, { s: 12.5, rot: true });
txt('Log2 RNA\u2212seq base mean', 388, 939, { s: 13 });
txt('Larval heads', 725, 729, { s: 13, a: 'r' });
legendBox(610, 747, 718, 787, [[YEL, '#f0a000', 'male-biased ATAC', 755], [PURPLE, PURPLE, 'female-biased expression', 764], [RED, RED, 'male-biased expression', 773], ['#d8d8d8', '#d8d8d8', 'equal expression', 783]], 615, 622, 8.4);
stats(722, 796, col('0/', ORANGE) + col('9', PURPLE) + ' = 0%', '1', '', '0');
stats(722, 881, col('6/', ORANGE) + col('21', RED) + ' = 28%', '0.007', '**', '4.4');
txt('Log2 RNA\u2212seq base mean', 627, 939, { s: 13 });

fig.appendChild(svg);
</script>
</body>
</html>
